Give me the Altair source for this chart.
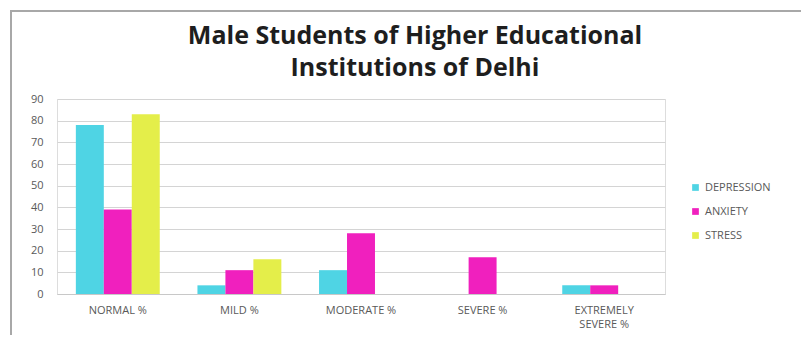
import altair as alt
import pandas as pd

categories = ["NORMAL %", "MILD %", "MODERATE %", "SEVERE %", "EXTREMELY SEVERE %"]
series = ["DEPRESSION", "ANXIETY", "STRESS"]
depression = [78, 4, 11, 0, 4]
anxiety = [39, 11, 28, 17, 4]
stress = [83, 16, 0, 0, 0]
colors = ["#4FD4E4", "#F020BE", "#E4EE4A"]

rows = []
for i, c in enumerate(categories):
    for s, vals in zip(series, [depression, anxiety, stress]):
        rows.append({"category": c, "series": s, "value": vals[i]})
df = pd.DataFrame(rows)

bars = alt.Chart(df).mark_bar().encode(
    x=alt.X("category:N", sort=categories, title=None,
            scale=alt.Scale(paddingInner=0.31, paddingOuter=0.155),
            axis=alt.Axis(labelAngle=0, labelColor="#595959", labelFontSize=11,
                          labelFont="Open Sans", ticks=False, domainColor="#c8c8c8",
                          labelPadding=10, labelLineHeight=14,
                          labelExpr="datum.value == 'EXTREMELY SEVERE %' ? ['EXTREMELY', 'SEVERE %'] : datum.value")),
    xOffset=alt.XOffset("series:N", sort=series),
    y=alt.Y("value:Q", title=None,
            scale=alt.Scale(domain=[0, 90]),
            axis=alt.Axis(values=list(range(0, 91, 10)), labelColor="#595959",
                          labelFontSize=11, labelFont="Open Sans", ticks=False,
                          domain=False, gridColor="#d4d4d4", labelPadding=14)),
    color=alt.Color("series:N", sort=series,
                    scale=alt.Scale(domain=series, range=colors),
                    legend=alt.Legend(title=None, orient="none", legendX=633, legendY=83,
                                      symbolType="square", symbolSize=45,
                                      labelColor="#595959", labelFontSize=11,
                                      labelFont="Open Sans", rowPadding=12, symbolStrokeWidth=0)),
)

frame_df = pd.DataFrame({"k": [0]})
left_line = alt.Chart(frame_df).mark_rule(color="#a8a8a8", strokeWidth=2).encode(
    x=alt.value(-46), y=alt.value(-88), y2=alt.value(246))
top_line = alt.Chart(frame_df).mark_rule(color="#a8a8a8", strokeWidth=2).encode(
    x=alt.value(-47), x2=alt.value(760), y=alt.value(-88))

chart = alt.layer(bars, left_line, top_line).properties(
    width=608, height=195,
    title=alt.TitleParams(["Male Students of Higher Educational", "Institutions of Delhi"],
                          fontSize=25, font="Open Sans", fontWeight="bold", color="#1e1e1e",
                          anchor="middle", dx=54, lineHeight=32, offset=-71),
    autosize=alt.AutoSizeParams(type="none"),
    padding={"left": 49, "top": 91, "right": 136, "bottom": 41},
).configure_view(stroke=None).configure(background="white")

chart.save("out.html", embed_options={"renderer": "svg", "actions": False})
